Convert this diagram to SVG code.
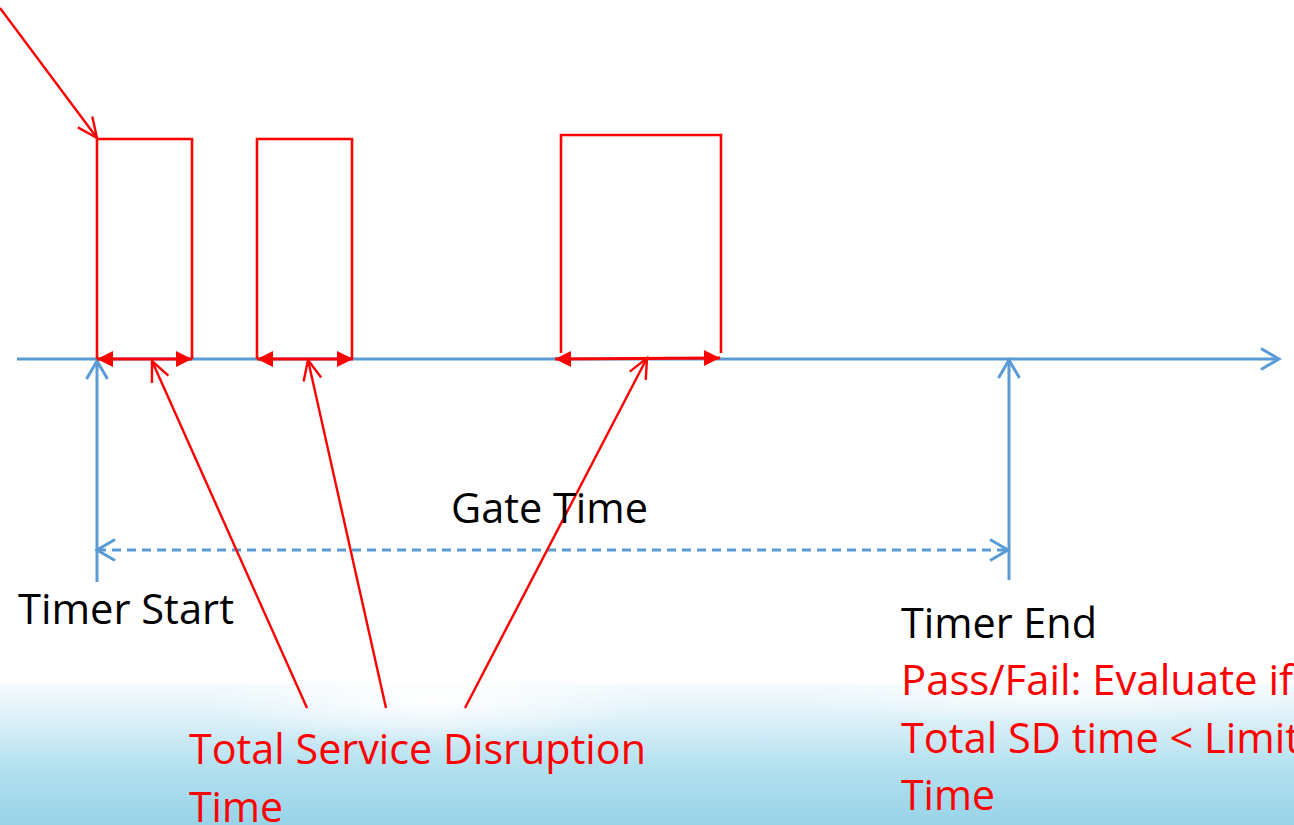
<svg xmlns="http://www.w3.org/2000/svg" width="1294" height="825" viewBox="0 0 1294 825">
  <style>
    .lbl { font-family: "Open Sans", "Noto Sans", "Liberation Sans", sans-serif; font-size: 42px; }
    .blk { fill: #000000; }
    .red { fill: #ff0000; }
    .axis { fill: none; stroke: #5b9bd5; stroke-width: 3; }
    .pulse { fill: none; stroke: #ff0000; stroke-width: 2.6; stroke-linejoin: miter; }
    .ptr { fill: none; stroke: #ff0000; stroke-width: 2.4; }
    .span { fill: none; stroke: #ff0000; stroke-width: 3.2; }
  </style>
  <defs>
    <marker id="openBlue" markerUnits="userSpaceOnUse" viewBox="-22 -13 26 26" refX="0" refY="0" markerWidth="26" markerHeight="26" orient="auto-start-reverse" overflow="visible">
      <path d="M-18,-10.5 L0,0 L-18,10.5" fill="none" stroke="#5b9bd5" stroke-width="3"/>
    </marker>
    <marker id="openRed" markerUnits="userSpaceOnUse" viewBox="-24 -12 28 24" refX="0" refY="0" markerWidth="28" markerHeight="24" orient="auto" overflow="visible">
      <path d="M-20,-9 L0,0 L-20,9" fill="none" stroke="#ff0000" stroke-width="2.4"/>
    </marker>
    <marker id="solidRed" markerUnits="userSpaceOnUse" viewBox="-18 -10 20 20" refX="0" refY="0" markerWidth="20" markerHeight="20" orient="auto-start-reverse" overflow="visible">
      <path d="M-16,-8 L0,0 L-16,8 Z" fill="#ff0000"/>
    </marker>
    <linearGradient id="bandFill" x1="0" y1="0" x2="0" y2="1">
      <stop offset="0" stop-color="#f6fbfe"/>
      <stop offset="0.3" stop-color="#d6eef7"/>
      <stop offset="0.6" stop-color="#b2e0ef"/>
      <stop offset="1" stop-color="#98d3e8"/>
    </linearGradient>
    <radialGradient id="glow" cx="0.5" cy="0.5" r="0.5">
      <stop offset="0" stop-color="#ffffff" stop-opacity="0.95"/>
      <stop offset="1" stop-color="#ffffff" stop-opacity="0"/>
    </radialGradient>
  </defs>

  <!-- page background -->
  <rect x="0" y="0" width="1294" height="825" fill="#ffffff"/>

  <!-- soft blue footer band -->
  <g id="footer-band">
    <rect x="0" y="683" width="1294" height="142" fill="url(#bandFill)"/>
    <ellipse cx="430" cy="700" rx="230" ry="45" fill="url(#glow)"/>
    <ellipse cx="1050" cy="695" rx="260" ry="30" fill="url(#glow)" opacity="0.7"/>
  </g>

  <!-- time axis and timer markers -->
  <g id="connectors">
    <line class="axis" x1="17" y1="359" x2="1279" y2="359" marker-end="url(#openBlue)"/>
    <line class="axis" x1="97" y1="582" x2="97" y2="361" marker-end="url(#openBlue)"/>
    <line class="axis" x1="1009" y1="580" x2="1009" y2="360" marker-end="url(#openBlue)"/>
    <line class="axis" x1="97" y1="550" x2="1008" y2="550" stroke-dasharray="9 6" marker-start="url(#openBlue)" marker-end="url(#openBlue)"/>

    <!-- disruption span arrows -->
    <line class="span" x1="97" y1="359" x2="192" y2="359" marker-start="url(#solidRed)" marker-end="url(#solidRed)"/>
    <line class="span" x1="257" y1="359" x2="353" y2="359" marker-start="url(#solidRed)" marker-end="url(#solidRed)"/>
    <line class="span" x1="555" y1="359" x2="720" y2="358" marker-start="url(#solidRed)" marker-end="url(#solidRed)"/>

    <!-- pointers -->
    <line class="ptr" x1="0" y1="8" x2="97" y2="138" marker-end="url(#openRed)"/>
    <line class="ptr" x1="307" y1="708" x2="152" y2="361" marker-end="url(#openRed)"/>
    <line class="ptr" x1="386" y1="708" x2="308" y2="360" marker-end="url(#openRed)"/>
    <line class="ptr" x1="465" y1="708" x2="647" y2="358" marker-end="url(#openRed)"/>
  </g>

  <!-- disruption pulses -->
  <g id="pulse-1">
    <polyline class="pulse" points="97,359 97,139 192,139 192,359"/>
  </g>
  <g id="pulse-2">
    <polyline class="pulse" points="257,359 257,139 352,139 352,359"/>
  </g>
  <g id="pulse-3">
    <polyline class="pulse" points="561,353 561,135 721,135 721,353"/>
  </g>

  <!-- labels -->
  <g id="label-gate-time">
    <text class="lbl blk" x="451" y="523" textLength="197" lengthAdjust="spacingAndGlyphs">Gate Time</text>
  </g>
  <g id="label-timer-start">
    <text class="lbl blk" x="18" y="624" textLength="216" lengthAdjust="spacingAndGlyphs">Timer Start</text>
  </g>
  <g id="label-timer-end">
    <text class="lbl blk" x="901" y="638" textLength="196" lengthAdjust="spacingAndGlyphs">Timer End</text>
  </g>
  <g id="label-pass-fail">
    <text class="lbl red" x="901" y="695" textLength="392" lengthAdjust="spacingAndGlyphs">Pass/Fail: Evaluate if</text>
    <text class="lbl red" x="901" y="753" textLength="399" lengthAdjust="spacingAndGlyphs">Total SD time &lt; Limit</text>
    <text class="lbl red" x="901" y="810" textLength="94" lengthAdjust="spacingAndGlyphs">Time</text>
  </g>
  <g id="label-total-sd">
    <text class="lbl red" x="189" y="764" textLength="457" lengthAdjust="spacingAndGlyphs">Total Service Disruption</text>
    <text class="lbl red" x="189" y="822" textLength="94" lengthAdjust="spacingAndGlyphs">Time</text>
  </g>
</svg>
